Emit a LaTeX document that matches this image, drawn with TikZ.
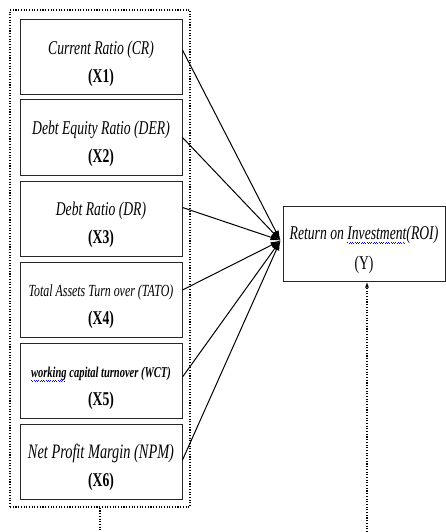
\documentclass[tikz,border=0pt]{standalone}
\usepackage{fontspec}
\setmainfont{Liberation Serif}[FakeStretch=0.7]
\usetikzlibrary{arrows.meta}

\newsavebox\spellbox
\newcommand\spellwave[1]{\sbox\spellbox{#1}\usebox\spellbox\llap{\textcolor{blue}{\hbox to\wd\spellbox{\leaders\hbox to 2.4pt{\raisebox{-3pt}{\rule{.8pt}{.5pt}}\hss\raisebox{-3.9pt}{\rule{.8pt}{.5pt}}\hss}\hfill}}}}
\newcommand\topgap{\rule{0pt}{26pt}}

\begin{document}
\begin{tikzpicture}[
  x=1pt,y=-1pt,
  var/.style={
    draw=black!85,
    line width=1pt,
    minimum width=162pt,
    minimum height=75pt,
    inner sep=0pt,
    align=center,
    font=\fontsize{19.5}{23}\selectfont
  },
  link/.style={line width=1pt,-{Latex[length=10pt,width=6pt]}},
  grpline/.style={line width=1.4pt,dash pattern=on 1.1pt off 1.6pt}
]
  \useasboundingbox (0,0) rectangle (446,532);

  % dotted frame round the independent variables
  \node[grpline,draw,minimum width=180pt,minimum height=497pt] (vars) at (100,258.5) {};

  \node[var] (x1) at (101,57.5) {\topgap\textit{Current Ratio (CR)}\\[5pt]\textbf{(X1)}};
  \node[var] (x2) at (101,137.5) {\topgap\textit{Debt Equity Ratio (DER)}\\[5pt]\textbf{(X2)}};
  \node[var] (x3) at (101,218.5) {\topgap\textit{Debt Ratio (DR)}\\[5pt]\textbf{(X3)}};
  \node[var,font=\fontsize{17}{20}\selectfont] (x4) at (101,300)
    {\topgap\textit{Total Assets Turn over (TATO)}\\[8pt]{\fontsize{19.5}{23}\selectfont\textbf{(X4)}}};
  \node[var,font=\fontsize{15}{18}\selectfont] (x5) at (101,381)
    {\topgap\textbf{\textit{\spellwave{working} capital turnover (WCT)}}\\[10pt]{\fontsize{19.5}{23}\selectfont\textbf{(X5)}}};
  \node[var,font=\fontsize{20.5}{24}\selectfont] (x6) at (101,461.5)
    {\topgap\textit{Net Profit Margin (NPM)}\\[4pt]{\fontsize{19.5}{23}\selectfont\textbf{(X6)}}};

  % dependent variable
  \node[var] (roi) at (364,243.5) {\topgap\textit{Return on \spellwave{Investment}(ROI)}\\[7pt](Y)};
  \coordinate (hub) at ([xshift=-2pt,yshift=3pt]roi.west);

  \foreach \v/\dy in {x1/7.5,x2/0,x3/11,x4/10,x5/4,x6/1.5}
    \draw[link] ([yshift=\dy pt]\v.east) -- (hub);

  % open dotted leads
  \coordinate (vout) at (100,532);
  \coordinate (yout) at (367,532);
  \draw[grpline] (vars.south) -- (vout);
  \draw[grpline,-{Latex[length=6pt,width=4pt]}] (yout) -- (yout |- roi.south);
\end{tikzpicture}
\end{document}
